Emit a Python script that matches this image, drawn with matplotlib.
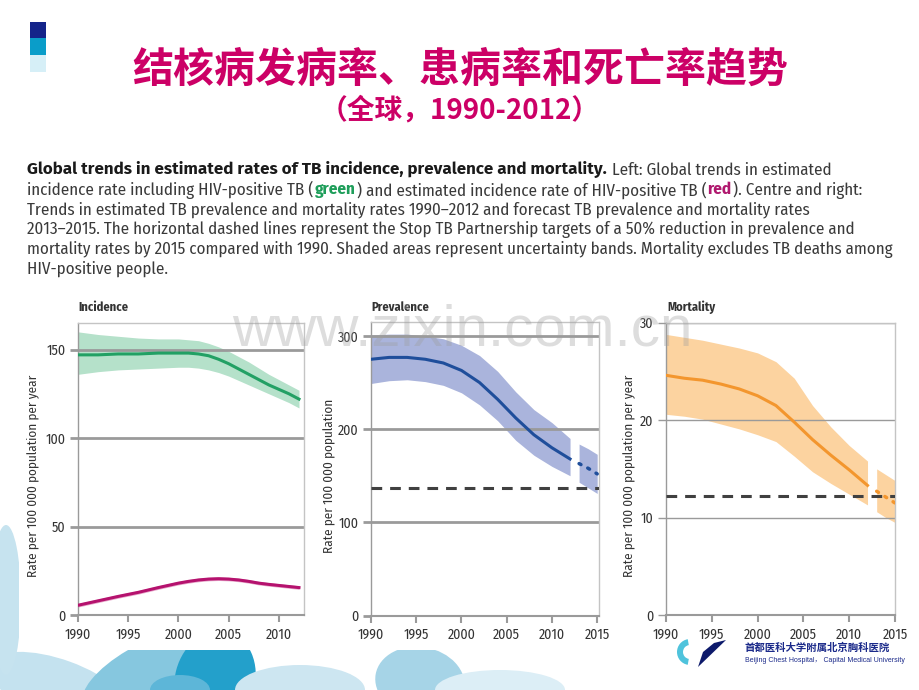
import numpy as np
import matplotlib
matplotlib.use("Agg")
import matplotlib.pyplot as plt
from matplotlib import font_manager
from matplotlib.patches import Rectangle, Ellipse, Polygon, Wedge

# --- data ---
inc_years = [1990, 1992, 1994, 1996, 1998, 2000, 2001, 2002, 2003, 2004, 2005,
             2006, 2007, 2008, 2009, 2010, 2011, 2012]
inc_all = [147, 147, 147.5, 147.5, 148, 148, 148, 147.5, 146.5, 144.5, 142,
           139, 136, 133, 130, 127.5, 125, 122]
inc_all_hi = [160, 158.5, 157.5, 156.5, 156, 156, 155.5, 155, 153.5, 151.5, 149,
              146, 143, 139.5, 136, 133, 130, 127]
inc_all_lo = [136, 137.5, 138.5, 139, 139.5, 140, 140, 139.5, 138.5, 137, 135,
              132.5, 130, 127.5, 125, 122.5, 120, 117]
inc_hiv = [5.5, 8, 10.5, 12.8, 15.5, 18, 19, 19.8, 20.3, 20.5, 20.3,
           19.8, 19, 18, 17.3, 16.7, 16.1, 15.5]
inc_hiv_hi = [6.5, 9, 11.5, 13.8, 16.5, 19, 20, 20.8, 21.3, 21.5, 21.3,
              20.8, 20, 19, 18.3, 17.7, 17.1, 16.5]
inc_hiv_lo = [4.5, 7, 9.5, 11.8, 14.5, 17, 18, 18.8, 19.3, 19.5, 19.3,
              18.8, 18, 17, 16.3, 15.7, 15.1, 14.5]

prev_years = [1990, 1992, 1994, 1996, 1998, 2000, 2002, 2004, 2006, 2008, 2010, 2012]
prev = [275, 277, 277, 275, 271, 263, 250, 232, 212, 194, 180, 168]
prev_hi = [301, 302, 302, 300, 297, 290, 279, 262, 240, 221, 207, 190]
prev_lo = [249, 252, 253, 251, 247, 239, 226, 209, 188, 172, 160, 150]
prev_fc_years = [2013, 2014, 2015]
prev_fc = [163, 158, 152]
prev_fc_hi = [184, 179, 173]
prev_fc_lo = [143, 137, 131]
prev_target = 137

mort_years = [1990, 1992, 1994, 1996, 1998, 2000, 2002, 2004, 2006, 2008, 2010, 2012]
mort = [24.6, 24.3, 24.1, 23.7, 23.2, 22.5, 21.5, 19.8, 18.0, 16.4, 14.9, 13.3]
mort_hi = [28.8, 28.5, 28.2, 27.8, 27.4, 26.9, 26.0, 24.3, 21.5, 19.3, 17.4, 15.8]
mort_lo = [20.6, 20.4, 20.1, 19.6, 19.1, 18.5, 17.8, 16.3, 14.7, 13.5, 12.4, 11.3]
mort_fc_years = [2013, 2014, 2015]
mort_fc = [12.7, 12.1, 11.5]
mort_fc_hi = [15.0, 14.4, 13.8]
mort_fc_lo = [10.6, 10.0, 9.5]
mort_target = 12.2

inc_yticks = [0, 50, 100, 150]
prev_yticks = [0, 100, 200, 300]
mort_yticks = [0, 10, 20, 30]
xticks_short = [1990, 1995, 2000, 2005, 2010]
xticks_long = [1990, 1995, 2000, 2005, 2010, 2015]

title = "结核病发病率、患病率和死亡率趋势"
subtitle = "（全球，1990-2012）"
ylab_year = "Rate per 100 000 population per year"
ylab = "Rate per 100 000 population"

caption = [
    [("Global trends in estimated rates of TB incidence, prevalence and mortality.", "bold", "#1a1a1a"),
     (" Left: Global trends in estimated", "normal", "#3a3a3a")],
    [("incidence rate including HIV-positive TB (", "normal", "#3a3a3a"),
     ("green", "bold", "#1E9E5A"),
     (") and estimated incidence rate of HIV-positive TB (", "normal", "#3a3a3a"),
     ("red", "bold", "#B0186E"),
     ("). Centre and right:", "normal", "#3a3a3a")],
    [("Trends in estimated TB prevalence and mortality rates 1990\u20132012 and forecast TB prevalence and mortality rates", "normal", "#3a3a3a")],
    [("2013\u20132015. The horizontal dashed lines represent the Stop TB Partnership targets of a 50% reduction in prevalence and", "normal", "#3a3a3a")],
    [("mortality rates by 2015 compared with 1990. Shaded areas represent uncertainty bands. Mortality excludes TB deaths among", "normal", "#3a3a3a")],
    [("HIV-positive people.", "normal", "#3a3a3a")],
]

names = {f.name for f in font_manager.fontManager.ttflist}
NARROW = "Liberation Sans"
for cand in ["Fira Sans Condensed", "Roboto Condensed", "Liberation Sans Narrow",
             "PT Sans Narrow", "Encode Sans Condensed", "Archivo Narrow",
             "IBM Plex Sans Condensed", "Asap Condensed", "Barlow Semi Condensed"]:
    if cand in names:
        NARROW = cand
        break
CJK = "Noto Sans CJK SC"

GRID = "#9A9A9A"
TXT = "#333333"

fig = plt.figure(figsize=(9.2, 6.9), dpi=100)

# background / decoration in pixel coordinates
bg = fig.add_axes([0, 0, 1, 1])
bg.set_xlim(0, 920)
bg.set_ylim(690, 0)
bg.axis("off")

petals = [((60, 690), 150, 60, 20, "#C4E2EF"), ((140, 672), 130, 50, -30, "#86C7DF"),
          ((215, 680), 80, 100, 15, "#23A0CB"), ((300, 690), 130, 50, 0, "#CDE6F1"),
          ((420, 682), 90, 70, 10, "#A6D4E7"), ((500, 690), 130, 40, 0, "#DCEEF6"),
          ((6, 600), 30, 150, 0, "#C6E3EF"), ((180, 690), 60, 30, 0, "#5DB6D8")]
for c, w, h, a, col in petals:
    bg.add_patch(Ellipse(c, w, h, angle=a, color=col, lw=0))
bg.add_patch(Rectangle((19, 280), 901, 370, color="white", lw=0))

bg.add_patch(Rectangle((30, 22), 16, 16, color="#14248A", lw=0))
bg.add_patch(Rectangle((30, 38), 16, 17, color="#0A9DC9", lw=0))
bg.add_patch(Rectangle((30, 55), 16, 17, color="#D6EFF7", lw=0))

bg.text(460, 70, title, fontsize=29.5, color="#CC0066", family=CJK, weight="bold",
        ha="center", va="center")
bg.text(460, 110, subtitle, fontsize=20, color="#CC0066", family=CJK, weight="bold",
        ha="center", va="center")

# caption, drawn segment by segment
renderer = fig.canvas.get_renderer()
probe = bg.text(0, 0, caption[4][0][0], fontsize=11, family=NARROW)
cap_size = 11 * 866 / probe.get_window_extent(renderer).width
probe.remove()

# the bold lead sentence is wider in the original; pick the closest bold face
BOLD = NARROW
best = None
for fam in [NARROW, "Fira Sans Semi Condensed", "Fira Sans"]:
    if fam not in names:
        continue
    probe = bg.text(0, 0, caption[0][0][0], fontsize=cap_size, family=fam, weight="bold")
    err = abs(probe.get_window_extent(renderer).width - 593)
    probe.remove()
    if best is None or err < best:
        best, BOLD = err, fam

for i, segs in enumerate(caption):
    x = 27
    y = 170 + 19.8 * i
    for s, w, col in segs:
        fam = BOLD if (w == "bold" and i == 0) else NARROW
        t = bg.text(x, y, s, fontsize=cap_size, weight=w, color=col, family=fam,
                    ha="left", va="center")
        x += t.get_window_extent(renderer).width + 1.2

# logo bottom right
bg.add_patch(Wedge((690, 652), 13, 100, 260, width=6, color="#4FC3DC", lw=0))
bg.add_patch(Polygon([(698, 667), (726, 640), (714, 643), (703, 652)], color="#0D1A6B", lw=0))
bg.text(745, 648, "首都医科大学附属北京胸科医院", fontsize=7.5, family=CJK, weight="bold",
        color="#1B2A8A", ha="left", va="center")
bg.text(745, 660, "Beijing Chest Hospital\uff0c Capital Medical University", fontsize=5,
        family=["Liberation Sans", CJK], color="#1B2A8A", ha="left", va="center")


def px_axes(left, top, right, bottom):
    return fig.add_axes([left / 920, 1 - bottom / 690, (right - left) / 920, (bottom - top) / 690])


def style(ax, ylim, yticks, xlim, xticks, grid_lw):
    ax.set_xlim(xlim)
    ax.set_ylim(ylim)
    for s in ax.spines.values():
        s.set_color("#C4C4C4")
        s.set_linewidth(1)
    ax.spines["left"].set_color(GRID)
    ax.spines["bottom"].set_color(GRID)
    ax.spines["bottom"].set_linewidth(1.5)
    ax.set_yticks(yticks)
    ax.set_xticks(xticks)
    for y in yticks[1:]:
        ax.axhline(y, color=GRID, lw=grid_lw, zorder=2)
    ax.tick_params(axis="y", length=6, width=grid_lw, color=GRID, pad=3,
                   labelsize=10, labelcolor=TXT)
    ax.tick_params(axis="x", length=5, width=1.5, color=GRID, pad=4,
                   labelsize=10, labelcolor=TXT)
    for lab in ax.get_xticklabels() + ax.get_yticklabels():
        lab.set_family(NARROW)


# Incidence
ax1 = px_axes(78, 323, 304, 615)
style(ax1, (0, 165), inc_yticks, (1990, 2012.5), xticks_short, 2)
ax1.fill_between(inc_years, inc_all_lo, inc_all_hi, color="#B5E1CA", lw=0, zorder=1)
ax1.plot(inc_years, inc_all, color="#22A064", lw=2.2, zorder=3)
ax1.fill_between(inc_years, inc_hiv_lo, inc_hiv_hi, color="#E8A9CB", lw=0, zorder=1)
ax1.plot(inc_years, inc_hiv, color="#B5126E", lw=2.2, zorder=3)

# Prevalence
ax2 = px_axes(371, 322, 599, 615.5)
style(ax2, (0, 315), prev_yticks, (1990, 2015.2), xticks_long, 2)
ax2.fill_between(prev_years, prev_lo, prev_hi, color="#AAB4DC", lw=0, zorder=1)
ax2.fill_between(prev_fc_years, prev_fc_lo, prev_fc_hi, color="#AAB4DC", lw=0, zorder=1)
ax2.plot(prev_years, prev, color="#1F4E9B", lw=2.2, zorder=3)
ax2.plot(prev_fc_years, prev_fc, color="#1F4E9B", lw=2.5, ls=(0, (0.6, 2.2)),
         dash_capstyle="round", zorder=3)
ax2.axhline(prev_target, color="#404040", lw=2.2, ls=(0, (3.5, 2.6)), zorder=4)

# Mortality
ax3 = px_axes(666, 322.7, 895, 615)
style(ax3, (0, 30), mort_yticks, (1990, 2015), xticks_long, 1)
ax3.fill_between(mort_years, mort_lo, mort_hi, color="#FCD3A0", lw=0, zorder=1)
ax3.fill_between(mort_fc_years, mort_fc_lo, mort_fc_hi, color="#FCD3A0", lw=0, zorder=1)
ax3.plot(mort_years, mort, color="#F3962E", lw=2.2, zorder=3)
ax3.plot(mort_fc_years, mort_fc, color="#F3962E", lw=2.5, ls=(0, (0.6, 2.2)),
         dash_capstyle="round", zorder=3)
ax3.axhline(mort_target, color="#404040", lw=2.2, ls=(0, (3.5, 2.6)), zorder=4)

# overlay: panel titles, y labels, watermark
ov = fig.add_axes([0, 0, 1, 1], zorder=10)
ov.set_xlim(0, 920)
ov.set_ylim(690, 0)
ov.axis("off")
for x, s in [(78, "Incidence"), (371, "Prevalence"), (667, "Mortality")]:
    ov.text(x, 307, s, fontsize=9, weight="bold", family=NARROW, color=TXT,
            ha="left", va="center")
for x, s in [(33, ylab_year), (329, ylab), (629, ylab_year)]:
    ov.text(x, 476, s, fontsize=9.5, family=NARROW, color=TXT, rotation=90,
            ha="center", va="center")
ov.text(232, 330, "www.zixin.com.cn", fontsize=42, family="Liberation Sans",
        color="#9E9E9E", alpha=0.35, ha="left", va="center")

fig.savefig("out.png", dpi=100)
